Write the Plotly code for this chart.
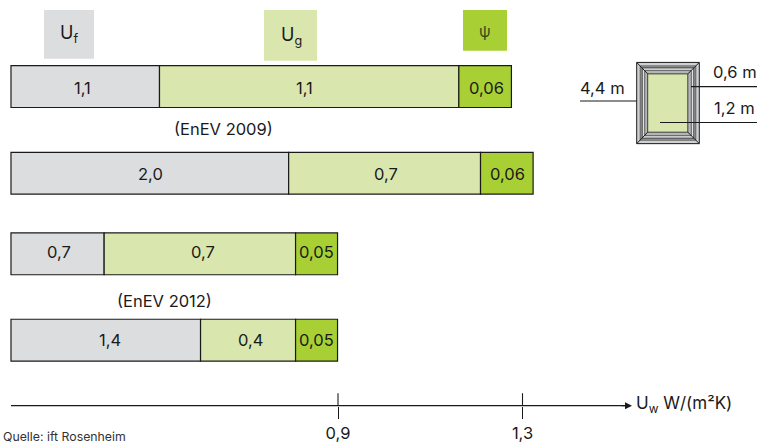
import plotly.graph_objects as go

rows = ["Zeile 1", "Zeile 2", "Zeile 3", "Zeile 4"]
# segment lengths read against the W/(m²K) axis
uf_len = [0.322, 0.602, 0.202, 0.411]
ug_len = [0.649, 0.416, 0.415, 0.206]
psi_len = [0.114, 0.114, 0.091, 0.091]
uf_labels = ["1,1", "2,0", "0,7", "1,4"]
ug_labels = ["1,1", "0,7", "0,7", "0,4"]
psi_labels = ["0,06", "0,06", "0,05", "0,05"]
axis_ticks = [0.9, 1.3]
axis_labels = ["0,9", "1,3"]
bar_start = 0.191

W, H = 760, 443
X0, X1 = 0.1672, 0.1672 + W / 461.25
row_y = [87, 174, 255, 341.7]
# label centres as drawn in the source, not quite the middle of each segment
uf_text_px = [82.5, 150, 58.7, 110]
ug_text_px = [304, 386, 203, 250.5]
psi_text_px = [486, 507.5, 316, 316]
text_y = [88, 175, 253.5, 342]
GREY, LIGHT, GREEN = "#DCDDDF", "#D9E7AE", "#A8D035"
FONT = "Inter"
INK = "#1a1a1a"
TS = 16.5


def xd(px):
    return X0 + px / 461.25


fig = go.Figure()
base = [bar_start] * 4
for vals, col in [(uf_len, GREY), (ug_len, LIGHT), (psi_len, GREEN)]:
    fig.add_trace(go.Bar(
        y=row_y, x=vals, base=base, orientation="h", width=42,
        marker=dict(color=col, line=dict(color=INK, width=1.2)),
        hoverinfo="skip", showlegend=False))
    base = [b + v for b, v in zip(base, vals)]

# axis line
axis_y = 407.5
fig.add_trace(go.Scatter(x=[bar_start, xd(625)], y=[axis_y, axis_y], mode="lines",
                         line=dict(color=INK, width=1.2), hoverinfo="skip", showlegend=False))

shapes = []
ann = []


def rect(x0, y0, x1, y1, fill, line=None, lw=0):
    shapes.append(dict(type="rect", xref="x", yref="y", x0=xd(x0), x1=xd(x1), y0=y0, y1=y1,
                       fillcolor=fill, line=dict(color=line or fill, width=lw), layer="above"))


def seg(x0, y0, x1, y1, lw=1.1, color=INK):
    shapes.append(dict(type="line", xref="x", yref="y", x0=xd(x0), x1=xd(x1), y0=y0, y1=y1,
                       line=dict(color=color, width=lw), layer="above"))


def text(px, py, s, size=TS, anchor="center", color=INK):
    ann.append(dict(xref="x", yref="y", x=xd(px), y=py, text=s, showarrow=False,
                    xanchor=anchor, yanchor="middle",
                    font=dict(family=FONT, size=size, color=color)))


for xs, labs in [(uf_text_px, uf_labels), (ug_text_px, ug_labels), (psi_text_px, psi_labels)]:
    for px, py, lab in zip(xs, text_y, labs):
        text(px, py, lab)

# legend chips
rect(44, 10, 94, 59, GREY)
rect(264, 10, 317, 61, LIGHT)
rect(463, 10, 507, 51, GREEN)
text(69, 34, "U<sub>f</sub>", 18)
text(291, 36, "U<sub>g</sub>", 18)
text(485, 32, "ψ", 15, color="#2f4a1a")

text(223, 130, "(EnEV 2009)")
text(164, 302.5, "(EnEV 2012)")

# tick marks across the axis line (upper half, lower half is the real axis tick)
for t in axis_ticks:
    shapes.append(dict(type="line", xref="x", yref="y", x0=t, x1=t, y0=395, y1=axis_y,
                       line=dict(color=INK, width=1.1), layer="above"))

# arrowhead
ann.append(dict(xref="x", yref="y", x=xd(632), y=axis_y, ax=xd(620), ay=axis_y, axref="x", ayref="y",
                text="", showarrow=True, arrowhead=2, arrowsize=1, arrowwidth=1.4, arrowcolor=INK))
text(634, 406, "U<sub>w</sub> W/(m²K)", 17, "left")
ann.append(dict(xref="paper", yref="paper", x=1 / W, y=1 - 438 / H, text="Quelle: ift Rosenheim",
                showarrow=False, xanchor="left", yanchor="middle",
                font=dict(family=FONT, size=12.3, color="#333333")))

# window sketch
L, T, R, B = 636.7, 62.7, 699.3, 144.3
rect(L, T, R, B, "#d0d1d3", INK, 1)
rect(L + 3.5, T + 3.5, R - 3.5, B - 3.5, "#a6a7a9", "#444444", 0.8)
rect(L + 5.5, T + 5.5, R - 5.5, B - 5.5, "#dfe0e2", INK, 0.8)
rect(L + 8, T + 8, R - 8, B - 8, "#b4b5b7", "#444444", 0.8)
rect(L + 11, T + 11.5, R - 11.5, B - 11.5, LIGHT, INK, 0.8)
for (a, b, c, d) in [(L, T, L + 11, T + 11.5), (R, T, R - 11.5, T + 11.5),
                     (L, B, L + 11, B - 11.5), (R, B, R - 11.5, B - 11.5)]:
    seg(a, b, c, d, 1)
seg(580, 101.5, L, 101.5)
seg(691, 87, 757, 87)
seg(660, 123, 757, 123)
text(602.5, 88, "4,4 m")
text(734.5, 72, "0,6 m")
text(734.5, 108, "1,2 m")

fig.update_layout(
    width=W, height=H, margin=dict(l=0, r=0, t=0, b=0), barmode="overlay",
    paper_bgcolor="white", plot_bgcolor="white", shapes=shapes, annotations=ann,
    font=dict(family=FONT),
    xaxis=dict(range=[X0, X1], domain=[0, 1], showgrid=False, zeroline=False, showline=False,
               tickmode="array", tickvals=axis_ticks, ticktext=axis_labels,
               ticks="outside", ticklen=12.5, tickwidth=1.1, tickcolor=INK,
               tickfont=dict(family=FONT, size=TS, color=INK),
               anchor="free", position=1 - axis_y / H),
    yaxis=dict(range=[H, 0], domain=[0, 1], visible=False),
)
fig.write_html("out.html", config={"displayModeBar": False},
               post_script="document.body.style.margin='0';document.documentElement.style.overflow='hidden';")
